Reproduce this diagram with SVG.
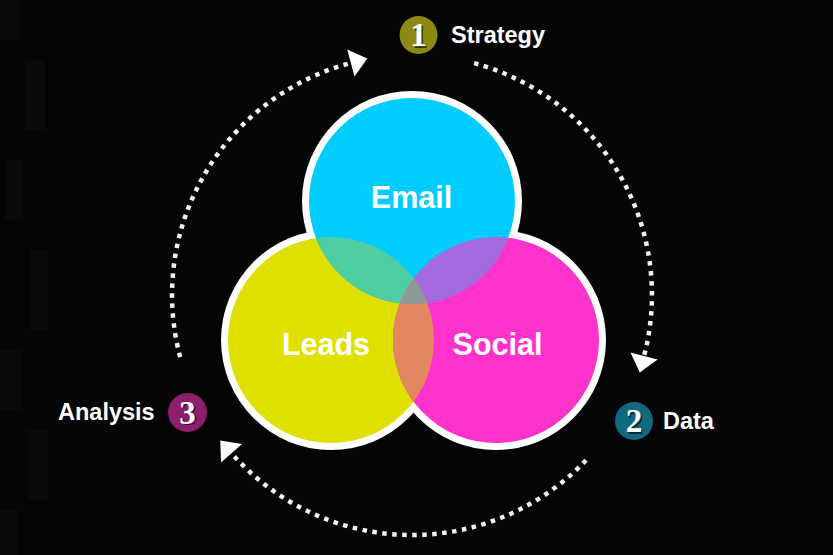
<svg xmlns="http://www.w3.org/2000/svg" width="833" height="555" viewBox="0 0 833 555">
  <style>
    .lbl { font-family: "Liberation Sans", Arial, sans-serif; font-weight: bold; fill: #ffffff; }
    .step { font-size: 23.5px; }
    .venn { font-size: 30.5px; text-anchor: middle; }
    .num { font-family: "Liberation Serif", "Times New Roman", serif; font-weight: bold; font-size: 33px; text-anchor: middle; }
    .numsh { fill: #000000; opacity: 0.6; }
    .numfg { fill: #ffffff; }
    .ring { fill: #ffffff; }
    .arc { fill: none; stroke: #f2f2f2; stroke-width: 4.5; stroke-dasharray: 4.5 5.5; }
    .tex { fill: #0a0a0a; }
  </style>
  <defs>
    <marker id="arrow" markerUnits="userSpaceOnUse" markerWidth="24" markerHeight="30" refX="0" refY="14" orient="auto" viewBox="0 0 24 28" overflow="visible">
      <path d="M1,0 L18,14 L1,28 Z" fill="#ffffff"/>
    </marker>
    <clipPath id="clipE"><circle cx="412" cy="201" r="103"/></clipPath>
    <clipPath id="clipL"><circle cx="331" cy="340" r="103"/></clipPath>
    <clipPath id="clipS"><circle cx="496" cy="340" r="103"/></clipPath>
  </defs>

  <rect width="833" height="555" fill="#050505"/>
  <g id="texture">
    <rect class="tex" x="0" y="0" width="20" height="40"/>
    <rect class="tex" x="25" y="60" width="20" height="70"/>
    <rect class="tex" x="5" y="160" width="18" height="60"/>
    <rect class="tex" x="30" y="250" width="18" height="80"/>
    <rect class="tex" x="0" y="350" width="22" height="60"/>
    <rect class="tex" x="28" y="430" width="20" height="70"/>
    <rect class="tex" x="0" y="510" width="18" height="45"/>
  </g>

  <g id="connectors">
    <path id="arc-analysis-strategy" class="arc" d="M180.2,357.1 A240,240 0 0 1 349.9,63.2" marker-end="url(#arrow)"/>
    <path id="arc-strategy-data" class="arc" d="M474.1,63.2 A240,240 0 0 1 644.3,355.1" marker-end="url(#arrow)"/>
    <path id="arc-data-analysis" class="arc" d="M586.1,460.2 A240,240 0 0 1 232.2,454" marker-end="url(#arrow)"/>
  </g>

  <g id="venn-outline">
    <circle class="ring" cx="412" cy="201" r="110"/>
    <circle class="ring" cx="331" cy="340" r="110"/>
    <circle class="ring" cx="496" cy="340" r="110"/>
  </g>

  <g id="node-leads">
    <circle cx="331" cy="340" r="103" fill="#dfe000"/>
  </g>
  <g id="node-social">
    <circle cx="496" cy="340" r="103" fill="#ff33cc"/>
  </g>
  <g id="node-email">
    <circle cx="412" cy="201" r="103" fill="#00ccff"/>
  </g>
  <g id="overlaps">
    <g clip-path="url(#clipE)"><circle cx="331" cy="340" r="103" fill="#4fcea2"/></g>
    <g clip-path="url(#clipE)"><circle cx="496" cy="340" r="103" fill="#a46ae0"/></g>
    <g clip-path="url(#clipL)"><circle cx="496" cy="340" r="103" fill="#e2875f"/></g>
    <g clip-path="url(#clipE)"><g clip-path="url(#clipL)"><circle cx="496" cy="340" r="103" fill="#8c9b98"/></g></g>
  </g>
  <g id="venn-labels">
    <text class="lbl venn" x="411.5" y="208">Email</text>
    <text class="lbl venn" x="326" y="355">Leads</text>
    <text class="lbl venn" x="497.5" y="355">Social</text>
  </g>

  <g id="step-strategy">
    <circle cx="418.5" cy="35" r="19" fill="#8c8a12"/>
    <text class="num numsh" x="420" y="47.5">1</text>
    <text class="num numfg" x="418.5" y="46">1</text>
    <text class="lbl step" x="451" y="43">Strategy</text>
  </g>
  <g id="step-data">
    <circle cx="634" cy="421" r="19" fill="#0f6a80"/>
    <text class="num numsh" x="635.5" y="433.5">2</text>
    <text class="num numfg" x="634" y="432">2</text>
    <text class="lbl step" x="663" y="429">Data</text>
  </g>
  <g id="step-analysis">
    <circle cx="187.5" cy="412.5" r="19.5" fill="#8b1f6e"/>
    <text class="num numsh" x="189" y="425">3</text>
    <text class="num numfg" x="187.5" y="423.5">3</text>
    <text class="lbl step" x="58" y="420">Analysis</text>
  </g>
</svg>
